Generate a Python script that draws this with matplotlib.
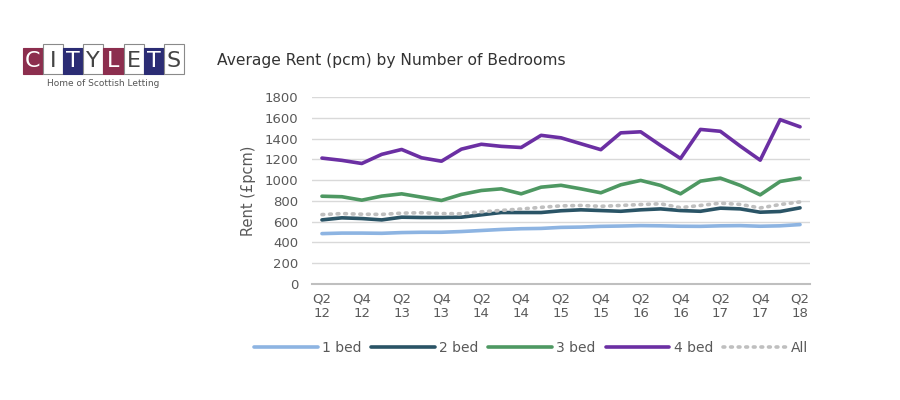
import matplotlib.pyplot as plt
from matplotlib.patches import Rectangle

# Quarters Q2 2012 .. Q2 2018
quarters = ["Q2 12", "Q3 12", "Q4 12", "Q1 13", "Q2 13", "Q3 13", "Q4 13", "Q1 14",
            "Q2 14", "Q3 14", "Q4 14", "Q1 15", "Q2 15", "Q3 15", "Q4 15", "Q1 16",
            "Q2 16", "Q3 16", "Q4 16", "Q1 17", "Q2 17", "Q3 17", "Q4 17", "Q1 18", "Q2 18"]
tick_labels = ["Q2\n12", "Q4\n12", "Q2\n13", "Q4\n13", "Q2\n14", "Q4\n14", "Q2\n15",
               "Q4\n15", "Q2\n16", "Q4\n16", "Q2\n17", "Q4\n17", "Q2\n18"]

bed1 = [485, 490, 490, 488, 495, 498, 498, 505, 515, 525, 532, 535, 545,
        548, 555, 558, 562, 560, 556, 555, 560, 562, 556, 560, 572]
bed2 = [617, 637, 630, 617, 643, 640, 640, 643, 666, 688, 688, 688, 705,
        714, 707, 700, 714, 723, 707, 700, 730, 723, 691, 698, 733]
bed3 = [845, 840, 807, 846, 868, 836, 804, 862, 900, 916, 868, 932, 950,
        916, 878, 955, 997, 949, 868, 990, 1019, 949, 858, 987, 1019]
bed4 = [1212, 1190, 1160, 1248, 1295, 1215, 1182, 1298, 1345, 1325, 1314, 1431, 1407,
        1350, 1293, 1455, 1465, 1334, 1208, 1488, 1470, 1327, 1192, 1582, 1513]
all_beds = [668, 678, 672, 670, 682, 686, 678, 676, 695, 708, 722, 738, 752,
            756, 748, 756, 765, 772, 735, 756, 778, 766, 732, 765, 790]

series = [("1 bed", bed1, "#8db4e2"), ("2 bed", bed2, "#2a5466"),
          ("3 bed", bed3, "#4e9862"), ("4 bed", bed4, "#6b2fa3")]

text_col = "#595959"

fig = plt.figure(figsize=(9, 4), dpi=100)

# Citylets logo (drawn in pixel coordinates on a full-figure axes)
lg = fig.add_axes([0, 0, 1, 1])
lg.set_xlim(0, 900)
lg.set_ylim(400, 0)
lg.axis("off")
letters = "CITYLETS"
fills = ["#8c2e4e", None, "#2b2c74", None, "#8c2e4e", None, "#2b2c74", None]
for i, (ch, fc) in enumerate(zip(letters, fills)):
    x0 = 23 + i * 20.1
    if fc:
        lg.add_patch(Rectangle((x0, 47.5), 20.1, 26, facecolor=fc, edgecolor=fc, lw=0.8))
        tc = "white"
    else:
        lg.add_patch(Rectangle((x0, 43.5), 20.1, 30, facecolor="white", edgecolor="#8a8a8a", lw=0.8))
        tc = "#444444"
    lg.text(x0 + 10, 61, ch, fontsize=16, color=tc, ha="center", va="center",
            family="DejaVu Sans")
lg.text(103, 83, "Home of Scottish Letting", fontsize=6.5, color="#555555",
        ha="center", va="center")

ax = fig.add_axes([312 / 900, 0.29, 498 / 900, 0.4675])

x = list(range(len(quarters)))
handles = []
for name, vals, col in series:
    h, = ax.plot(x, vals, color=col, lw=2.6, label=name, solid_capstyle="round")
    handles.append(h)
h, = ax.plot(x, all_beds, color="#bfbfbf", lw=2.6, ls=(0, (0.5, 1.6)),
             dash_capstyle="round", label="All")
handles.append(h)

ax.set_xlim(-0.5, len(quarters) - 0.5)
ax.set_ylim(0, 1800)
ax.set_yticks(range(0, 1801, 200))
ax.set_xticks(x[::2])
ax.set_xticklabels(tick_labels)
ax.grid(axis="y", color="#d9d9d9", lw=1)
ax.set_axisbelow(True)
for s in ["top", "right", "left"]:
    ax.spines[s].set_visible(False)
ax.spines["bottom"].set_color("#bfbfbf")
ax.spines["bottom"].set_linewidth(1.5)
ax.tick_params(length=0, labelsize=9.5, labelcolor=text_col, pad=6)
ax.tick_params(axis="y", pad=10)
ax.set_ylabel("Rent (£pcm)", fontsize=10.5, color=text_col, labelpad=6)

fig.legend(handles=handles, loc="center", bbox_to_anchor=(531 / 900, 0.13), ncol=5,
           frameon=False, fontsize=10, handlelength=4.6, handletextpad=0.3,
           columnspacing=0.7, labelcolor=text_col)

fig.text(217 / 900, 1 - 60 / 400, "Average Rent (pcm) by Number of Bedrooms",
         fontsize=11.2, color="#333333", va="center", ha="left")

fig.savefig("out.png", dpi=100)
